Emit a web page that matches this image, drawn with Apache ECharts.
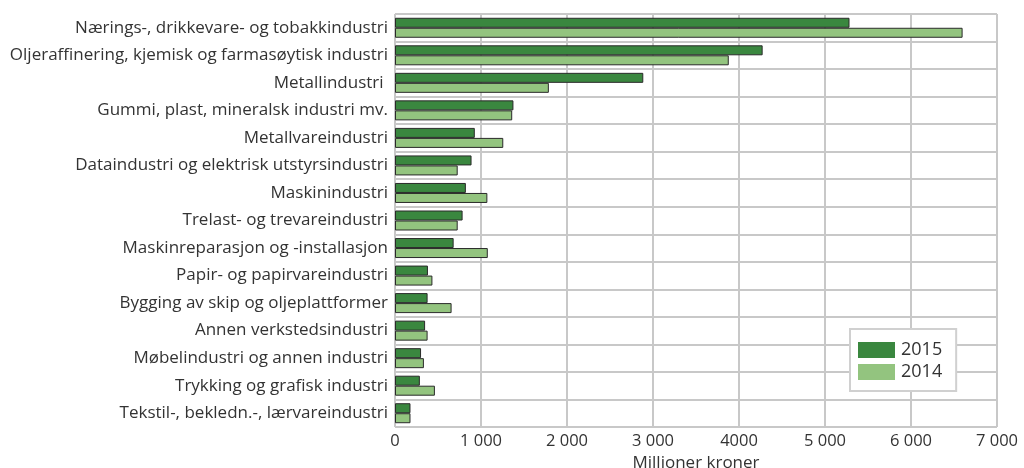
<!DOCTYPE html>
<html><head><meta charset="utf-8">
<script src="https://cdn.jsdelivr.net/npm/echarts@6/dist/echarts.min.js"></script>
<style>html,body{margin:0;padding:0;background:#fff}#c{width:1024px;height:468px}</style>
</head><body><div id="c"></div>
<script>
const categories = [
  "Nærings-, drikkevare- og tobakkindustri",
  "Oljeraffinering, kjemisk og farmasøytisk industri",
  "Metallindustri ",
  "Gummi, plast, mineralsk industri mv.",
  "Metallvareindustri",
  "Dataindustri og elektrisk utstyrsindustri",
  "Maskinindustri",
  "Trelast- og trevareindustri",
  "Maskinreparasjon og -installasjon",
  "Papir- og papirvareindustri",
  "Bygging av skip og oljeplattformer",
  "Annen verkstedsindustri",
  "Møbelindustri og annen industri",
  "Trykking og grafisk industri",
  "Tekstil-, bekledn.-, lærvareindustri"
];
const values2015 = [5285, 4275, 2887, 1377, 928, 890, 824, 786, 682, 383, 379, 350, 303, 289, 180];
const values2014 = [6600, 3881, 1789, 1363, 1259, 729, 1074, 729, 1079, 435, 658, 379, 336, 464, 180];
const tickLabels = {0:"0",1000:"1 000",2000:"2 000",3000:"3 000",4000:"4000",5000:"5 000",6000:"6 000",7000:"7 000"};
const seriesNames = ["2015", "2014"];

const FONT = "Open Sans";
const chart = echarts.init(document.getElementById('c'), null, {renderer:'canvas'});
chart.setOption({
  animation:false,
  textStyle:{fontFamily:FONT},
  grid:{left:395, right:27, top:14, bottom:41, containLabel:false, outerBoundsMode:'none'},
  legend:{
    orient:'vertical', left:850, top:329, icon:'rect',
    padding:[12,14,10,8], itemGap:4,
    itemWidth:37, itemHeight:16,
    backgroundColor:'#fff', borderColor:'#d0d0d0', borderWidth:2,
    textStyle:{fontFamily:FONT, fontSize:18, color:'#333', padding:[0,0,0,1]},
    itemStyle:{borderWidth:0},
    data:seriesNames
  },
  xAxis:{
    type:'value', min:0, max:7000, interval:1000,
    name:'Millioner kroner', nameLocation:'middle', nameGap:26,
    nameTextStyle:{fontFamily:FONT, fontSize:17, color:'#333'},
    axisLine:{show:false}, axisTick:{show:false},
    axisLabel:{fontFamily:FONT, fontSize:16.5, color:'#333', margin:6,
      formatter:v=>tickLabels[v]!==undefined?tickLabels[v]:String(v)},
    splitLine:{show:true, lineStyle:{color:'#c8c8c8', width:2}}
  },
  yAxis:{
    type:'category', data:categories, inverse:true,
    axisLine:{show:false}, axisTick:{show:false},
    axisLabel:{fontFamily:FONT, fontSize:17, color:'#333', margin:7},
    splitLine:{show:true, lineStyle:{color:'#c8c8c8', width:2}}
  },
  series:[
    {name:seriesNames[0], type:'bar', data:values2015, barWidth:10, barGap:'0%',
     itemStyle:{color:'#3a873f', borderColor:'#2a2a2a', borderWidth:1}},
    {name:seriesNames[1], type:'bar', data:values2014, barWidth:10, barGap:'0%',
     itemStyle:{color:'#93c47f', borderColor:'#2a2a2a', borderWidth:1}}
  ]
});
</script></body></html>
